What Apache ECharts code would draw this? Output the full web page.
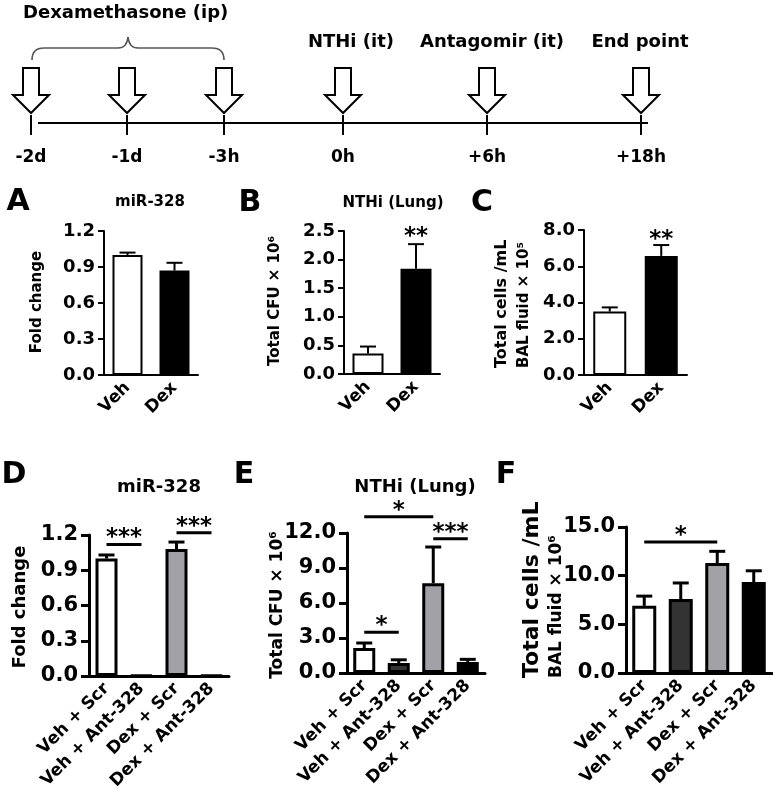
<!DOCTYPE html>
<html><head><meta charset="utf-8">
<script src="https://cdn.jsdelivr.net/npm/echarts@6/dist/echarts.min.js"></script>
<style>html,body{margin:0;padding:0;background:#fff}#c{width:773px;height:807px}</style>
</head><body><div id="c"></div>
<script>
// ================= DATA =================
const timelineTicks = ['-2d', '-1d', '-3h', '0h', '+6h', '+18h'];
const dexLabel = 'Dexamethasone (ip)';
const eventLabels = ['NTHi (it)', 'Antagomir (it)', 'End point'];

const catsTop = ['Veh', 'Dex'];
const catsBottom = ['Veh + Scr', 'Veh + Ant-328', 'Dex + Scr', 'Dex + Ant-328'];

const panelLetters = ['A', 'B', 'C', 'D', 'E', 'F'];
const panelTitles = ['miR-328', 'NTHi (Lung)', '', 'miR-328', 'NTHi (Lung)', ''];

const miRTop = [1.0, 0.87];
const miRTopSem = [0.02, 0.065];
const cfuTop = [0.36, 1.84];
const cfuTopSem = [0.12, 0.43];
const cellsTop = [3.5, 6.57];
const cellsTopSem = [0.23, 0.6];

const miRBottom = [1.0, 0.006, 1.08, 0.006];
const miRBottomSem = [0.03, 0, 0.06, 0];
const cfuBottom = [2.14, 0.85, 7.7, 0.95];
const cfuBottomSem = [0.43, 0.28, 3.1, 0.22];
const cellsBottom = [6.9, 7.6, 11.3, 9.35];
const cellsBottomSem = [1.0, 1.65, 1.2, 1.15];

const yMax = [1.2, 2.5, 8, 1.2, 12, 15];
const yStep = [0.3, 0.5, 2, 0.3, 3, 5];

// significance: [fromCategory, toCategory, level, text]
const sigA = [];
const sigB = [[1, 1, 2.48, '**']];
const sigC = [[1, 1, 7.72, '**']];
const sigD = [[0, 1, 1.12, '***'], [2, 3, 1.22, '***']];
const sigE = [[0, 1, 3.5, '*'], [0, 2, 13.4, '*'], [2, 3, 11.5, '***']];
const sigF = [[0, 2, 13.45, '*']];

// ================= LAYOUT / STYLE =================
const FONT = 'DejaVu Sans';
const colTop = ['#ffffff', '#000000'];
const colBottom = ['#ffffff', '#333333', '#a2a2a6', '#000000'];

const grids = [
  {left: 104, top: 231, width: 94, height: 144},
  {left: 344, top: 231, width: 96, height: 143},
  {left: 584, top: 230, width: 103, height: 145},
  {left: 89, top: 535, width: 140, height: 141},
  {left: 347, top: 533, width: 138, height: 140},
  {left: 626, top: 527, width: 146, height: 146}
];
const tickX = [31, 127, 224, 343, 487, 641];

const panels = [
  {cats: catsTop, vals: miRTop, sem: miRTopSem, sig: sigA, col: colTop, bw: 30, row: 0},
  {cats: catsTop, vals: cfuTop, sem: cfuTopSem, sig: sigB, col: colTop, bw: 31, row: 0},
  {cats: catsTop, vals: cellsTop, sem: cellsTopSem, sig: sigC, col: colTop, bw: 33, row: 0},
  {cats: catsBottom, vals: miRBottom, sem: miRBottomSem, sig: sigD, col: colBottom, bw: 22, row: 1},
  {cats: catsBottom, vals: cfuBottom, sem: cfuBottomSem, sig: sigE, col: colBottom, bw: 22, row: 1},
  {cats: catsBottom, vals: cellsBottom, sem: cellsBottomSem, sig: sigF, col: colBottom, bw: 24, row: 1}
];
const rowStyle = [
  {lw: 2, tick: 6, tickFs: 18, xFs: 17, cap: 8, starFs: 23, xMargin: 10},
  {lw: 3, tick: 8, tickFs: 21, xFs: 17, cap: 8, starFs: 23, xMargin: 10}
];

function errRender(cap, lw) {
  return function (params, api) {
    const s = api.value(2);
    if (!s) return null;
    const p0 = api.coord([api.value(0), api.value(1)]);
    const p1 = api.coord([api.value(0), api.value(1) + s]);
    return {type: 'group', children: [
      {type: 'line', shape: {x1: p0[0], y1: p0[1], x2: p1[0], y2: p1[1]}, style: {stroke: '#000', lineWidth: lw}},
      {type: 'line', shape: {x1: p1[0] - cap, y1: p1[1], x2: p1[0] + cap, y2: p1[1]}, style: {stroke: '#000', lineWidth: lw}}
    ]};
  };
}
function sigRender(list, fs, lw) {
  return function (params, api) {
    const d = list[params.dataIndex];
    const a = api.coord([d[0], d[2]]);
    const b = api.coord([d[1], d[2]]);
    const kids = [];
    let ty;
    if (d[0] !== d[1]) {
      kids.push({type: 'line', shape: {x1: a[0], y1: a[1], x2: b[0], y2: b[1]}, style: {stroke: '#000', lineWidth: lw}});
      ty = a[1] - 6;
    } else {
      ty = a[1] + 5;
    }
    kids.push({type: 'text', x: (a[0] + b[0]) / 2, y: ty,
      style: {text: d[3], fontSize: fs, fontWeight: 'bold', fontFamily: FONT, fill: '#000',
        align: 'center', verticalAlign: 'middle', textAlign: 'center', textVerticalAlign: 'middle'}});
    return {type: 'group', children: kids};
  };
}

const option = {
  animation: false,
  backgroundColor: '#fff',
  textStyle: {fontFamily: FONT},
  grid: grids.map(g => Object.assign({containLabel: false}, g)),
  xAxis: panels.map((p, i) => {
    const r = rowStyle[p.row];
    return {
      type: 'category', gridIndex: i, data: p.cats,
      axisLine: {lineStyle: {color: '#000', width: r.lw}},
      axisTick: {alignWithLabel: true, length: r.tick, lineStyle: {color: '#000', width: r.lw}},
      axisLabel: {rotate: 45, interval: 0, margin: r.xMargin, color: '#000', fontSize: r.xFs, fontWeight: 'bold', fontFamily: FONT}
    };
  }),
  yAxis: panels.map((p, i) => {
    const r = rowStyle[p.row];
    return {
      type: 'value', gridIndex: i, min: 0, max: yMax[i], interval: yStep[i],
      splitLine: {show: false},
      axisLine: {show: true, lineStyle: {color: '#000', width: r.lw}},
      axisTick: {show: true, length: r.tick, lineStyle: {color: '#000', width: r.lw}},
      axisLabel: {margin: r.tick + 3, color: '#000', fontSize: r.tickFs, fontWeight: 'bold', fontFamily: FONT,
        formatter: v => v.toFixed(1)}
    };
  }),
  series: []
};

panels.forEach((p, i) => {
  const r = rowStyle[p.row];
  option.series.push({
    type: 'bar', xAxisIndex: i, yAxisIndex: i, barWidth: p.bw, z: 2,
    itemStyle: {borderColor: '#000', borderWidth: r.lw},
    data: p.vals.map((v, j) => ({value: v, itemStyle: {color: p.col[j]}}))
  });
  option.series.push({
    type: 'custom', xAxisIndex: i, yAxisIndex: i, z: 3, clip: false,
    renderItem: errRender(r.cap, r.lw),
    data: p.vals.map((v, j) => [j, v, p.sem[j]])
  });
  if (p.sig.length) {
    option.series.push({
      type: 'custom', xAxisIndex: i, yAxisIndex: i, z: 4, clip: false,
      renderItem: sigRender(p.sig, r.starFs, r.lw),
      data: p.sig.map(d => [d[0], d[2]])
    });
  }
});

// ---------- graphics: timeline, letters, titles, axis names ----------
function txt(x, y, text, fs, opts) {
  opts = opts || {};
  return {type: 'text', x: x, y: y, rotation: opts.rot || 0, z: 10,
    style: {text: text, fontSize: fs, fontWeight: 'bold', fontFamily: FONT, fill: '#000',
      align: opts.align || 'center', textAlign: opts.align || 'center',
      verticalAlign: opts.va || 'middle', textVerticalAlign: opts.va || 'middle'}};
}
const g = [];
g.push({type: 'line', shape: {x1: 38, y1: 123, x2: 648, y2: 123}, style: {stroke: '#000', lineWidth: 2}});
tickX.forEach((x, i) => {
  g.push({type: 'line', shape: {x1: x, y1: 115, x2: x, y2: 135}, style: {stroke: '#000', lineWidth: 2}});
  g.push(txt(x, 158, timelineTicks[i], 17));
  g.push({type: 'polygon', z: 5, shape: {points: [[x - 8, 68], [x + 8, 68], [x + 8, 95], [x + 18, 95], [x, 113], [x - 18, 95], [x - 8, 95]]},
    style: {fill: '#fff', stroke: '#000', lineWidth: 2}});
});
const bs = {stroke: '#555', lineWidth: 1.6, fill: null};
g.push({type: 'bezierCurve', shape: {x1: 32, y1: 60, cpx1: 32, cpy1: 48, x2: 44, y2: 48}, style: bs});
g.push({type: 'line', shape: {x1: 44, y1: 48, x2: 118, y2: 48}, style: bs});
g.push({type: 'bezierCurve', shape: {x1: 118, y1: 48, cpx1: 127, cpy1: 48, x2: 128, y2: 37}, style: bs});
g.push({type: 'bezierCurve', shape: {x1: 128, y1: 37, cpx1: 129, cpy1: 48, x2: 138, y2: 48}, style: bs});
g.push({type: 'line', shape: {x1: 138, y1: 48, x2: 212, y2: 48}, style: bs});
g.push({type: 'bezierCurve', shape: {x1: 212, y1: 48, cpx1: 224, cpy1: 48, x2: 224, y2: 60}, style: bs});
g.push(txt(23, 13, dexLabel, 18, {align: 'left'}));
g.push(txt(351, 42, eventLabels[0], 18));
g.push(txt(492, 42, eventLabels[1], 18));
g.push(txt(640, 42, eventLabels[2], 18));

const letterPos = [[18, 202], [250, 203], [482, 203], [14, 475], [244, 475], [506, 475]];
letterPos.forEach((p, i) => g.push(txt(p[0], p[1], panelLetters[i], 30)));
g.push(txt(150, 202, panelTitles[0], 15));
g.push(txt(393, 203, panelTitles[1], 15));
g.push(txt(159, 487, panelTitles[3], 18));
g.push(txt(415, 487, panelTitles[4], 18));

const R = Math.PI / 2;
g.push(txt(37, 302, 'Fold change', 15, {rot: R}));
g.push(txt(275, 301, 'Total CFU × 10\u2076', 15, {rot: R}));
g.push(txt(502, 368, 'Total cells /mL', 16, {rot: R, align: 'left'}));
g.push(txt(524, 368, 'BAL fluid × 10\u2075', 15, {rot: R, align: 'left'}));
g.push(txt(20, 607, 'Fold change', 18, {rot: R}));
g.push(txt(278, 605, 'Total CFU × 10\u2076', 17, {rot: R}));
g.push(txt(532, 678, 'Total cells /mL', 22, {rot: R, align: 'left'}));
g.push(txt(557, 678, 'BAL fluid × 10\u2076', 17, {rot: R, align: 'left'}));

option.graphic = {elements: g};

const chart = echarts.init(document.getElementById('c'), null, {renderer: 'canvas'});
chart.setOption(option);
</script></body></html>
